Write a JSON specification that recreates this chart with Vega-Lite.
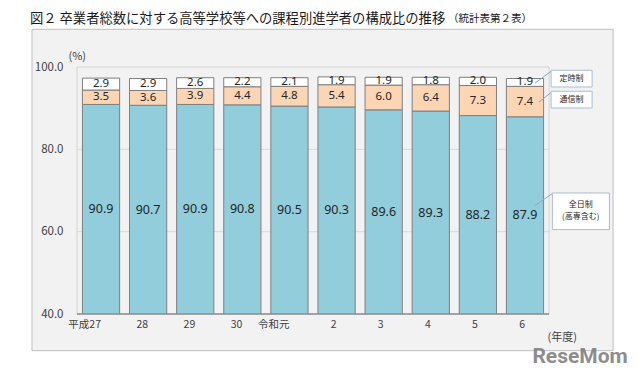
{
  "$schema": "https://vega.github.io/schema/vega-lite/v6.json",
  "width": 472,
  "height": 247,
  "autosize": {"type": "none"},
  "padding": {"left": 77, "top": 67, "right": 91, "bottom": 62},
  "background": "white",
  "config": {
    "view": {"stroke": null},
    "font": "Noto Sans CJK JP",
    "axis": {"labelFont": "Noto Sans CJK JP", "titleFont": "Noto Sans CJK JP"}
  },
  "title": {
    "text": "図２ 卒業者総数に対する高等学校等への課程別進学者の構成比の推移",
    "anchor": "start",
    "frame": "group",
    "fontSize": 13.3,
    "fontWeight": "normal",
    "color": "#1a1a1a",
    "font": "Noto Sans CJK JP",
    "dx": -47,
    "offset": -11
  },
  "datasets": {
    "main": [
      {"year": "平成27", "type": "全日制", "ord": 1, "value": 90.9},
      {"year": "平成27", "type": "通信制", "ord": 2, "value": 3.5},
      {"year": "平成27", "type": "定時制", "ord": 3, "value": 2.9},
      {"year": "28", "type": "全日制", "ord": 1, "value": 90.7},
      {"year": "28", "type": "通信制", "ord": 2, "value": 3.6},
      {"year": "28", "type": "定時制", "ord": 3, "value": 2.9},
      {"year": "29", "type": "全日制", "ord": 1, "value": 90.9},
      {"year": "29", "type": "通信制", "ord": 2, "value": 3.9},
      {"year": "29", "type": "定時制", "ord": 3, "value": 2.6},
      {"year": "30", "type": "全日制", "ord": 1, "value": 90.8},
      {"year": "30", "type": "通信制", "ord": 2, "value": 4.4},
      {"year": "30", "type": "定時制", "ord": 3, "value": 2.2},
      {"year": "令和元", "type": "全日制", "ord": 1, "value": 90.5},
      {"year": "令和元", "type": "通信制", "ord": 2, "value": 4.8},
      {"year": "令和元", "type": "定時制", "ord": 3, "value": 2.1},
      {"year": "2", "type": "全日制", "ord": 1, "value": 90.3},
      {"year": "2", "type": "通信制", "ord": 2, "value": 5.4},
      {"year": "2", "type": "定時制", "ord": 3, "value": 1.9},
      {"year": "3", "type": "全日制", "ord": 1, "value": 89.6},
      {"year": "3", "type": "通信制", "ord": 2, "value": 6.0},
      {"year": "3", "type": "定時制", "ord": 3, "value": 1.9},
      {"year": "4", "type": "全日制", "ord": 1, "value": 89.3},
      {"year": "4", "type": "通信制", "ord": 2, "value": 6.4},
      {"year": "4", "type": "定時制", "ord": 3, "value": 1.8},
      {"year": "5", "type": "全日制", "ord": 1, "value": 88.2},
      {"year": "5", "type": "通信制", "ord": 2, "value": 7.3},
      {"year": "5", "type": "定時制", "ord": 3, "value": 2.0},
      {"year": "6", "type": "全日制", "ord": 1, "value": 87.9},
      {"year": "6", "type": "通信制", "ord": 2, "value": 7.4},
      {"year": "6", "type": "定時制", "ord": 3, "value": 1.9}
    ]
  },
  "layer": [
    {
      "layer": [
        {
          "data": {"values": [{}]},
          "mark": {"type": "rect", "fill": "#f2f2f2", "stroke": "#bfbfbf", "strokeWidth": 1},
          "encoding": {
            "x": {"datum": "平成27", "bandPosition": -1.355},
            "x2": {"datum": "6", "bandPosition": 2.868},
            "y": {"datum": 109.16},
            "y2": {"datum": 31.09}
          }
        },
        {
          "data": {"values": [{}]},
          "mark": {"type": "rect", "fill": "#f2f2f2", "stroke": "#d4d4d4", "strokeWidth": 1},
          "encoding": {
            "x": {"datum": "平成27", "bandPosition": -0.145},
            "x2": {"datum": "6", "bandPosition": 1.148},
            "y": {"datum": 100},
            "y2": {"datum": 40}
          }
        },
        {
          "data": {"values": [{}]},
          "mark": {"type": "rule", "color": "#d9d9d9", "strokeWidth": 1},
          "encoding": {"y": {"datum": 60}}
        },
        {
          "data": {"values": [{}]},
          "mark": {"type": "rule", "color": "#d9d9d9", "strokeWidth": 1},
          "encoding": {"y": {"datum": 80}}
        },
        {
          "data": {"name": "main"},
          "mark": {"type": "bar", "clip": true, "stroke": "#7f7f7f", "strokeWidth": 1},
          "encoding": {
            "x": {
              "field": "year",
              "type": "nominal",
              "sort": null,
              "scale": {
                "domain": ["平成27", "28", "29", "30", "令和元", "2", "3", "4", "5", "6"],
                "paddingInner": 0.21,
                "paddingOuter": 0.115
              },
              "axis": {
                "title": "(年度)",
                "titleX": 470,
                "titleY": 23,
                "titleAlign": "left",
                "titleBaseline": "middle",
                "titleFontSize": 11,
                "titleFontWeight": "normal",
                "titleColor": "#404040",
                "labelAngle": 0,
                "labelFontSize": 10.5,
                "labelColor": "#404040",
                "labelPadding": 10,
                "ticks": false,
                "domain": false,
                "grid": false,
                "zindex": 1
              }
            },
            "y": {
              "field": "value",
              "type": "quantitative",
              "stack": "zero",
              "scale": {"domain": [40, 100], "nice": false, "zero": false},
              "axis": {
                "values": [40, 60, 80, 100],
                "format": ".1f",
                "title": "(%)",
                "titleAngle": 0,
                "titleX": -9,
                "titleY": -11,
                "titleAlign": "left",
                "titleBaseline": "middle",
                "titleFontSize": 11,
                "titleFontWeight": "normal",
                "titleColor": "#404040",
                "labelFontSize": 11.5,
                "labelColor": "#404040",
                "labelPadding": 14,
                "ticks": false,
                "domain": false,
                "grid": false,
                "zindex": 1
              }
            },
            "color": {
              "field": "type",
              "type": "nominal",
              "scale": {"domain": ["全日制", "通信制", "定時制"], "range": ["#92CDDC", "#FCD5B4", "#FFFFFF"]},
              "legend": null
            },
            "order": {"field": "ord", "type": "quantitative"}
          }
        },
        {
          "data": {"values": [{}]},
          "mark": {"type": "rule", "color": "#8c8c8c", "strokeWidth": 1.3},
          "encoding": {"y": {"datum": 40}}
        },
        {
          "data": {"name": "main"},
          "transform": [
            {"stack": "value", "groupby": ["year"], "sort": [{"field": "ord", "order": "ascending"}], "as": ["v0", "v1"]},
            {"filter": {"field": "type", "oneOf": ["通信制", "定時制"]}},
            {"fold": ["v0", "v1"], "as": ["edge", "pos"]},
            {"aggregate": [{"op": "mean", "field": "pos", "as": "mid"}], "groupby": ["year", "type", "value"]}
          ],
          "mark": {"type": "text", "fontSize": 11.5, "color": "#262626", "baseline": "middle", "font": "Noto Sans"},
          "encoding": {
            "x": {"field": "year", "type": "nominal", "sort": null},
            "y": {"field": "mid", "type": "quantitative"},
            "text": {"field": "value", "type": "quantitative", "format": ".1f"}
          }
        },
        {
          "data": {"values": [{}]},
          "mark": {"type": "rule", "color": "#8ea4c4", "strokeWidth": 1},
          "encoding": {
            "x": {"datum": "6", "bandPosition": 0.772},
            "x2": {"datum": "6", "bandPosition": 1.202},
            "y": {"datum": 96.1},
            "y2": {"datum": 98.96}
          }
        },
        {
          "data": {"values": [{}]},
          "mark": {"type": "rule", "color": "#8ea4c4", "strokeWidth": 1},
          "encoding": {
            "x": {"datum": "6", "bandPosition": 0.879},
            "x2": {"datum": "6", "bandPosition": 1.202},
            "y": {"datum": 91.5},
            "y2": {"datum": 93.8}
          }
        },
        {
          "data": {"values": [{}]},
          "mark": {"type": "rule", "color": "#8ea4c4", "strokeWidth": 1},
          "encoding": {
            "x": {"datum": "6", "bandPosition": 0.772},
            "x2": {"datum": "6", "bandPosition": 1.237},
            "y": {"datum": 66.4},
            "y2": {"datum": 69.25}
          }
        },
        {
          "data": {"values": [{}]},
          "mark": {"type": "rect", "fill": "white", "stroke": "#a9bcd6", "strokeWidth": 1},
          "encoding": {
            "x": {"datum": "6", "bandPosition": 1.202},
            "x2": {"datum": "6", "bandPosition": 2.304},
            "y": {"datum": 99.2},
            "y2": {"datum": 95.15}
          }
        },
        {
          "data": {"values": [{}]},
          "mark": {"type": "rect", "fill": "white", "stroke": "#a9bcd6", "strokeWidth": 1},
          "encoding": {
            "x": {"datum": "6", "bandPosition": 1.202},
            "x2": {"datum": "6", "bandPosition": 2.304},
            "y": {"datum": 94.1},
            "y2": {"datum": 90.04}
          }
        },
        {
          "data": {"values": [{}]},
          "mark": {"type": "rect", "fill": "white", "stroke": "#a9bcd6", "strokeWidth": 1},
          "encoding": {
            "x": {"datum": "6", "bandPosition": 1.237},
            "x2": {"datum": "6", "bandPosition": 2.769},
            "y": {"datum": 69.4},
            "y2": {"datum": 60.5}
          }
        },
        {
          "data": {"values": [{}]},
          "mark": {"type": "text", "text": "定時制", "fontSize": 8, "color": "#262626", "baseline": "middle"},
          "encoding": {
            "x": {"datum": "6", "bandPosition": 1.753},
            "y": {"datum": 97.16}
          }
        },
        {
          "data": {"values": [{}]},
          "mark": {"type": "text", "text": "通信制", "fontSize": 8, "color": "#262626", "baseline": "middle"},
          "encoding": {
            "x": {"datum": "6", "bandPosition": 1.753},
            "y": {"datum": 92.08}
          }
        },
        {
          "data": {"values": [{}]},
          "mark": {"type": "text", "text": "全日制", "fontSize": 8, "color": "#262626", "baseline": "middle"},
          "encoding": {
            "x": {"datum": "6", "bandPosition": 2.0},
            "y": {"datum": 66.4}
          }
        },
        {
          "data": {"values": [{}]},
          "mark": {"type": "text", "text": "(高専含む)", "fontSize": 8, "color": "#262626", "baseline": "middle"},
          "encoding": {
            "x": {"datum": "6", "bandPosition": 2.0},
            "y": {"datum": 63.5}
          }
        },
        {
          "data": {"values": [{}]},
          "mark": {"type": "text", "text": "（統計表第２表）", "fontSize": 10.5, "color": "#1a1a1a", "align": "left", "baseline": "middle"},
          "encoding": {
            "x": {"datum": "4", "bandPosition": 0.965},
            "y": {"datum": 111.6}
          }
        },
        {
          "data": {"values": [{}]},
          "mark": {"type": "text", "text": "ReseMom", "fontSize": 21, "fontWeight": "bold", "font": "Roboto", "color": "#7a7a7a", "opacity": 0.85, "baseline": "middle"},
          "encoding": {
            "x": {"datum": "6", "bandPosition": 1.98},
            "y": {"datum": 29.49}
          }
        }
      ]
    },
    {
      "data": {"name": "main"},
      "transform": [{"filter": {"field": "type", "equal": "全日制"}}],
      "mark": {"type": "text", "fontSize": 12.5, "color": "#262626", "baseline": "middle", "font": "Noto Sans"},
      "encoding": {
        "x": {"field": "year", "type": "nominal", "sort": null},
        "y": {"field": "value", "type": "quantitative", "scale": {"domain": [40, 160], "nice": false, "zero": false}, "axis": null},
        "text": {"field": "value", "type": "quantitative", "format": ".1f"}
      }
    }
  ],
  "resolve": {"scale": {"y": "independent"}}
}
